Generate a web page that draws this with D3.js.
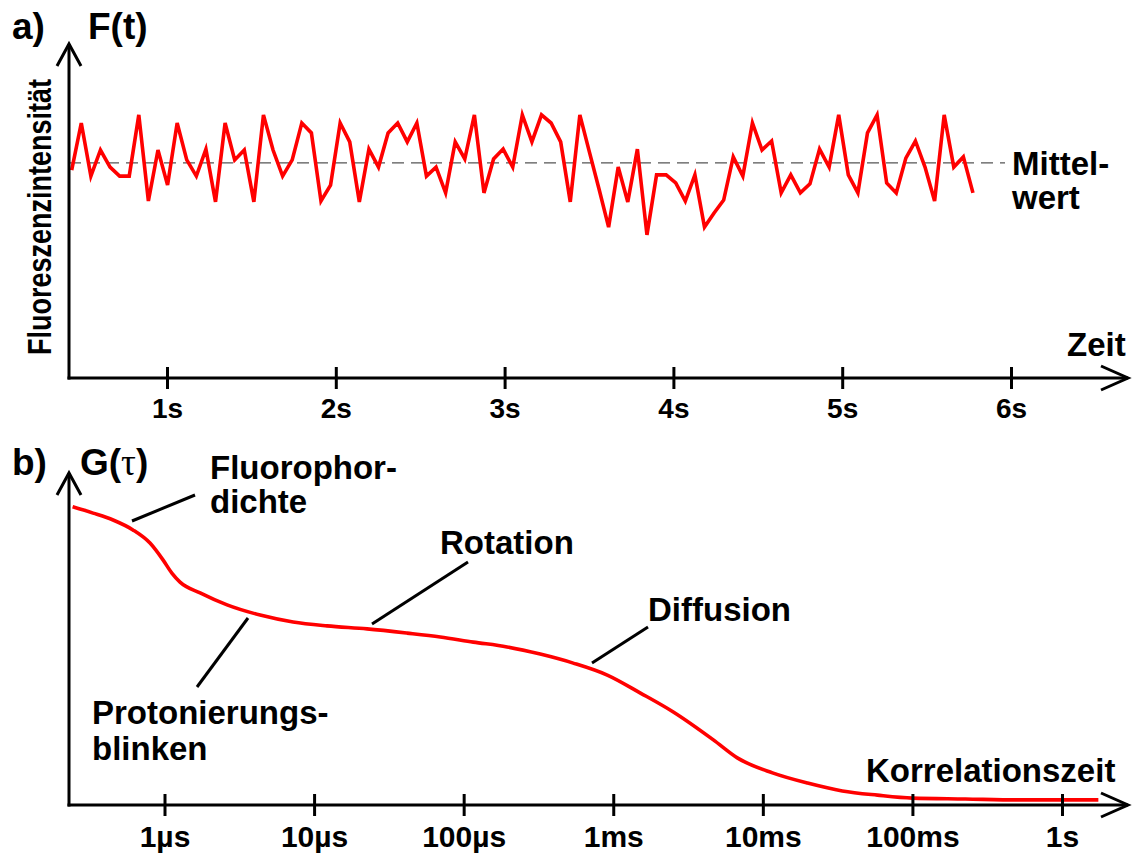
<!DOCTYPE html>
<html>
<head>
<meta charset="utf-8">
<script src="https://cdn.jsdelivr.net/npm/d3@7/dist/d3.min.js"></script>
<style>
  html, body { margin: 0; padding: 0; background: #fff; }
  svg text { font-family: "Liberation Sans", Arial, sans-serif; font-weight: bold; fill: #000; }
</style>
</head>
<body>
<svg id="chart" width="1138" height="854"></svg>
<script>
// ---------- Panel a data: fluorescence intensity trace ----------
const T0 = 0.4354;          // time of first sample (s)
const DT = 0.0568;          // sampling interval (s)
const intensity = [
  69.3, 85, 67.3, 76, 70.3, 67.3, 67.3, 87.7, 59, 76,
  64.3, 85, 72.7, 67.3, 76.3, 58.7, 85, 72.7, 76, 58.7,
  87.7, 76, 67.3, 72.7, 85, 81.7, 59, 64.3, 85, 78.7,
  58.7, 76.3, 70.3, 81.7, 85, 78.7, 85, 67.3, 70.3, 61.7,
  78.7, 73, 87.7, 61.7, 73, 76.3, 70.3, 87.7, 78.7, 87.7,
  85, 78.7, 58.7, 87.7, 75.3, 63, 50.3, 70.3, 58.7, 76.3,
  47.7, 67.7, 67.7, 65, 59, 67.7, 50.3, 55, 59.3, 73.7,
  67.3, 85, 76, 79, 61.7, 67.7, 61.7, 64.7, 76.3, 70.3,
  87.7, 67.7, 61.7, 81.7, 87.7, 65, 61.7, 73.3, 79, 70.3,
  59, 87.7, 70.3, 73.7, 61.7
];
const meanValue = 71.7;
const timeTicks = [1, 2, 3, 4, 5, 6];
const timeTickLabels = ["1s", "2s", "3s", "4s", "5s", "6s"];

// ---------- Panel b data: autocorrelation G(tau) ----------
const tau = [
  2.43e-7, 3.33e-7, 4.53e-7, 6.15e-7, 8.0e-7, 9.77e-7, 1.12e-6, 1.27e-6, 1.73e-6, 2.62e-6,
  4.36e-6, 7.24e-6, 1.22e-5, 2.26e-5, 4.19e-5, 6.97e-5, 1.16e-4, 1.95e-4, 3.25e-4, 5.40e-4,
  9.12e-4, 1.52e-3, 2.52e-3, 4.67e-3, 6.75e-3, 0.0116, 0.0199, 0.0340, 0.0583,
  0.100, 0.226, 0.504, 1.007, 1.75
];
const G = [
  0.994, 0.973, 0.950, 0.917, 0.873, 0.817, 0.773, 0.743, 0.707, 0.667,
  0.633, 0.610, 0.597, 0.587, 0.573, 0.560, 0.543, 0.527, 0.503, 0.473,
  0.433, 0.373, 0.310, 0.217, 0.157, 0.107, 0.073, 0.047, 0.033,
  0.023, 0.020, 0.017, 0.017, 0.017
];
const tauTicks = [1e-6, 1e-5, 1e-4, 1e-3, 1e-2, 1e-1, 1];
const tauTickLabels = ["1µs", "10µs", "100µs", "1ms", "10ms", "100ms", "1s"];

// ---------- drawing ----------
const svg = d3.select("#chart");
const RED = "#ff0000";
const AX = 3;

function arrowUp(g, x, y) {
  g.append("path").attr("d", `M${x-12},${y+22}L${x},${y}L${x+12},${y+22}`)
    .attr("fill", "none").attr("stroke", "#000").attr("stroke-width", AX).attr("stroke-linejoin", "miter");
}
function arrowRight(g, x, y) {
  g.append("path").attr("d", `M${x-27},${y-12}L${x},${y}L${x-27},${y+12}`)
    .attr("fill", "none").attr("stroke", "#000").attr("stroke-width", AX).attr("stroke-linejoin", "miter");
}

// ===== Panel a =====
const a = svg.append("g");
const axA = { x0: 69, y0: 378, xEnd: 1128, yTop: 44 };
const xa = d3.scaleLinear().domain([1, 6]).range([167, 1011]);
const ya = d3.scaleLinear().domain([0, 100]).range([378, 78]);

// mean line
a.append("line")
  .attr("x1", axA.x0).attr("x2", 1005)
  .attr("y1", ya(meanValue)).attr("y2", ya(meanValue))
  .attr("stroke", "#555").attr("stroke-width", 1.2).attr("stroke-dasharray", "12,7");

// trace
const lineA = d3.line().x((d, i) => xa(T0 + i * DT)).y(d => ya(d));
a.append("path").datum(intensity).attr("d", lineA)
  .attr("fill", "none").attr("stroke", RED).attr("stroke-width", 3.6).attr("stroke-linejoin", "miter");

// axes
a.append("line").attr("x1", axA.x0).attr("x2", axA.x0).attr("y1", axA.y0 + 1.5).attr("y2", axA.yTop)
  .attr("stroke", "#000").attr("stroke-width", AX);
a.append("line").attr("x1", axA.x0 - 1.5).attr("x2", axA.xEnd).attr("y1", axA.y0).attr("y2", axA.y0)
  .attr("stroke", "#000").attr("stroke-width", AX);
arrowUp(a, axA.x0, axA.yTop);
arrowRight(a, axA.xEnd, axA.y0);

const axisA = d3.axisBottom(xa).tickValues(timeTicks).tickFormat((d, i) => timeTickLabels[i]).tickSize(11).tickPadding(0);
const gxa = a.append("g").attr("transform", `translate(0,${axA.y0})`).call(axisA);
gxa.select(".domain").remove();
gxa.selectAll(".tick line").attr("y1", -11).attr("y2", 11).attr("stroke", "#000").attr("stroke-width", AX);
gxa.selectAll(".tick text").attr("y", 40).attr("dy", 0).attr("font-size", 28)
  .style("font-family", '"Liberation Sans", Arial, sans-serif').style("font-weight", "bold");

a.append("text").attr("x", 12).attr("y", 39).attr("font-size", 37).text("a)");
a.append("text").attr("x", 88).attr("y", 39).attr("font-size", 37).text("F(t)");
a.append("text").attr("x", 1067).attr("y", 356).attr("font-size", 33).text("Zeit");
a.append("text").attr("x", 1012).attr("y", 175).attr("font-size", 33).text("Mittel-");
a.append("text").attr("x", 1012).attr("y", 209).attr("font-size", 33).text("wert");
a.append("text")
  .attr("transform", "translate(51,217) rotate(-90)")
  .attr("text-anchor", "middle")
  .attr("font-size", 33)
  .attr("textLength", 276).attr("lengthAdjust", "spacingAndGlyphs")
  .style("font-family", '"Liberation Sans Narrow", "Liberation Sans", Arial, sans-serif')
  .text("Fluoreszenzintensität");

// ===== Panel b =====
const b = svg.append("g");
const axB = { x0: 69, y0: 805, xEnd: 1128, yTop: 473 };
const xb = d3.scaleLog().domain([1e-6, 1]).range([164.5, 1062]);
const yb = d3.scaleLinear().domain([0, 1]).range([805, 505]);

const lineB = d3.line().x((d, i) => xb(tau[i])).y(d => yb(d)).curve(d3.curveMonotoneX);
b.append("path").datum(G).attr("d", lineB)
  .attr("fill", "none").attr("stroke", RED).attr("stroke-width", 3.6);

b.append("line").attr("x1", axB.x0).attr("x2", axB.x0).attr("y1", axB.y0 + 1.5).attr("y2", axB.yTop)
  .attr("stroke", "#000").attr("stroke-width", AX);
b.append("line").attr("x1", axB.x0 - 1.5).attr("x2", axB.xEnd).attr("y1", axB.y0).attr("y2", axB.y0)
  .attr("stroke", "#000").attr("stroke-width", AX);
arrowUp(b, axB.x0, axB.yTop);
arrowRight(b, axB.xEnd, axB.y0);

const axisB = d3.axisBottom(xb).tickValues(tauTicks).tickFormat((d, i) => tauTickLabels[i]).tickSize(11).tickPadding(0);
const gxb = b.append("g").attr("transform", `translate(0,${axB.y0})`).call(axisB);
gxb.select(".domain").remove();
gxb.selectAll(".tick line").attr("y1", -11).attr("y2", 11).attr("stroke", "#000").attr("stroke-width", AX);
gxb.selectAll(".tick text").attr("y", 42).attr("dy", 0).attr("font-size", 30)
  .style("font-family", '"Liberation Sans", Arial, sans-serif').style("font-weight", "bold");

b.append("text").attr("x", 12).attr("y", 475).attr("font-size", 37).text("b)");
const gt = b.append("text").attr("x", 80).attr("y", 475).attr("font-size", 37);
gt.append("tspan").text("G(");
gt.append("tspan").style("font-family", '"Liberation Serif", "Times New Roman", serif').style("font-weight", "normal").text("τ");
gt.append("tspan").text(")");

// annotations
const notes = [
  { lines: ["Fluorophor-", "dichte"], x: 210, y: 479, dy: 34 },
  { lines: ["Rotation"], x: 440, y: 554, dy: 0 },
  { lines: ["Diffusion"], x: 648, y: 621, dy: 0 },
  { lines: ["Protonierungs-", "blinken"], x: 92, y: 724, dy: 36 },
  { lines: ["Korrelationszeit"], x: 866, y: 782, dy: 0 }
];
notes.forEach(n => {
  n.lines.forEach((l, i) => {
    b.append("text").attr("x", n.x).attr("y", n.y + i * n.dy).attr("font-size", 33).text(l);
  });
});
const leaders = [
  [132, 521, 195, 495],
  [372, 624, 468, 562],
  [592, 663, 648, 627],
  [248, 618, 197, 687]
];
leaders.forEach(p => {
  b.append("line").attr("x1", p[0]).attr("y1", p[1]).attr("x2", p[2]).attr("y2", p[3])
    .attr("stroke", "#000").attr("stroke-width", 3);
});
</script>
</body>
</html>
